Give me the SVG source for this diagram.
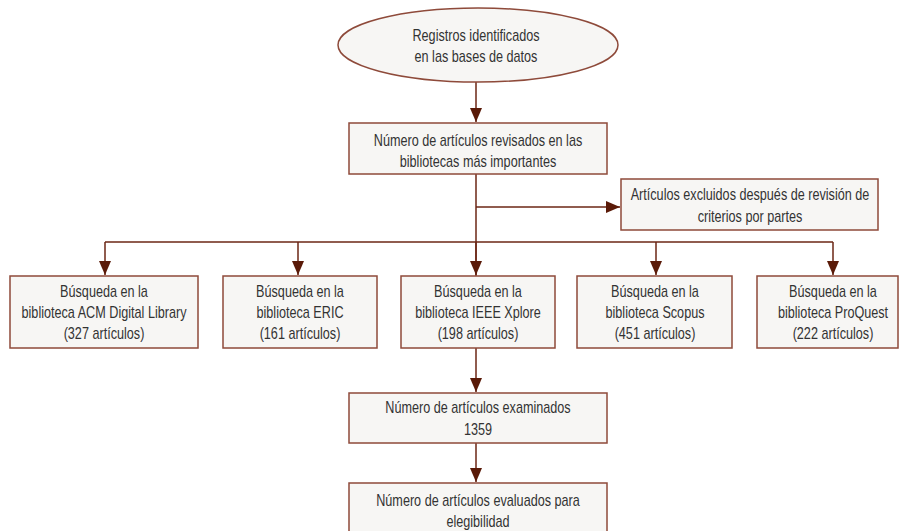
<svg xmlns="http://www.w3.org/2000/svg" width="900" height="531" viewBox="0 0 900 531">
<defs>
<marker id="ah" viewBox="0 0 14 12" refX="14" refY="6" markerWidth="14" markerHeight="12" markerUnits="userSpaceOnUse" orient="auto">
<path d="M0,0 L14,6 L0,12 Z" fill="#5a1a08"/>
</marker>
<style>
.box{fill:#f7f6f4;stroke:#8e4a3a;stroke-width:1.5}
.t{font-family:"Liberation Sans",Arial,sans-serif;font-size:16px;fill:#333333;text-anchor:middle}
.c{fill:none;stroke:#6b2614;stroke-width:1.5}
.a{marker-end:url(#ah)}
</style>
</defs>
<rect width="900" height="531" fill="#ffffff"/>
<g id="connectors">
<line class="c a" x1="476" y1="82" x2="476" y2="122"/>
<line class="c" x1="476" y1="174" x2="476" y2="276"/>
<line class="c a" x1="476" y1="207" x2="620" y2="207"/>
<polyline class="c" points="105,242 833,242"/>
<line class="c a" x1="105" y1="242" x2="105" y2="275"/>
<line class="c a" x1="298" y1="242" x2="298" y2="275"/>
<line class="c a" x1="476" y1="242" x2="476" y2="275"/>
<line class="c a" x1="656" y1="242" x2="656" y2="275"/>
<line class="c a" x1="833" y1="242" x2="833" y2="275"/>
<line class="c a" x1="476" y1="348" x2="476" y2="392"/>
<line class="c a" x1="476" y1="443" x2="476" y2="482"/>
</g>
<g id="n-registros">
<ellipse class="box" cx="478" cy="45" rx="140" ry="37"/>
<text class="t" transform="translate(476,41) scale(0.79,1)">Registros identificados</text>
<text class="t" transform="translate(476,62) scale(0.79,1)">en las bases de datos</text>
</g>
<g id="n-revisados">
<rect class="box" x="349" y="123" width="258" height="51"/>
<text class="t" transform="translate(478,146) scale(0.79,1)">Número de artículos revisados en las</text>
<text class="t" transform="translate(478,167) scale(0.79,1)">bibliotecas más importantes</text>
</g>
<g id="n-excluidos">
<rect class="box" x="621" y="179" width="257" height="51"/>
<text class="t" transform="translate(750,200) scale(0.79,1)">Artículos excluidos después de revisión de</text>
<text class="t" transform="translate(750,222) scale(0.79,1)">criterios por partes</text>
</g>
<g id="n-acm">
<rect class="box" x="10" y="276" width="188" height="72"/>
<text class="t" transform="translate(104,297) scale(0.79,1)">Búsqueda en la</text>
<text class="t" transform="translate(104,318) scale(0.79,1)">biblioteca ACM Digital Library</text>
<text class="t" transform="translate(104,339) scale(0.79,1)">(327 artículos)</text>
</g>
<g id="n-eric">
<rect class="box" x="223" y="276" width="154" height="72"/>
<text class="t" transform="translate(300,297) scale(0.79,1)">Búsqueda en la</text>
<text class="t" transform="translate(300,318) scale(0.79,1)">biblioteca ERIC</text>
<text class="t" transform="translate(300,339) scale(0.79,1)">(161 artículos)</text>
</g>
<g id="n-ieee">
<rect class="box" x="401" y="276" width="154" height="72"/>
<text class="t" transform="translate(478,297) scale(0.79,1)">Búsqueda en la</text>
<text class="t" transform="translate(478,318) scale(0.79,1)">biblioteca IEEE Xplore</text>
<text class="t" transform="translate(478,339) scale(0.79,1)">(198 artículos)</text>
</g>
<g id="n-scopus">
<rect class="box" x="577" y="276" width="155" height="72"/>
<text class="t" transform="translate(655,297) scale(0.79,1)">Búsqueda en la</text>
<text class="t" transform="translate(655,318) scale(0.79,1)">biblioteca Scopus</text>
<text class="t" transform="translate(655,339) scale(0.79,1)">(451 artículos)</text>
</g>
<g id="n-proquest">
<rect class="box" x="757" y="276" width="141" height="72"/>
<text class="t" transform="translate(833,297) scale(0.79,1)">Búsqueda en la</text>
<text class="t" transform="translate(833,318) scale(0.79,1)">biblioteca ProQuest</text>
<text class="t" transform="translate(833,339) scale(0.79,1)">(222 artículos)</text>
</g>
<g id="n-examinados">
<rect class="box" x="349" y="393" width="258" height="50"/>
<text class="t" transform="translate(478,413) scale(0.79,1)">Número de artículos examinados</text>
<text class="t" transform="translate(478,435) scale(0.79,1)">1359</text>
</g>
<g id="n-evaluados">
<rect class="box" x="349" y="483" width="258" height="60"/>
<text class="t" transform="translate(478,506) scale(0.79,1)">Número de artículos evaluados para</text>
<text class="t" transform="translate(478,527) scale(0.79,1)">elegibilidad</text>
</g>
</svg>
